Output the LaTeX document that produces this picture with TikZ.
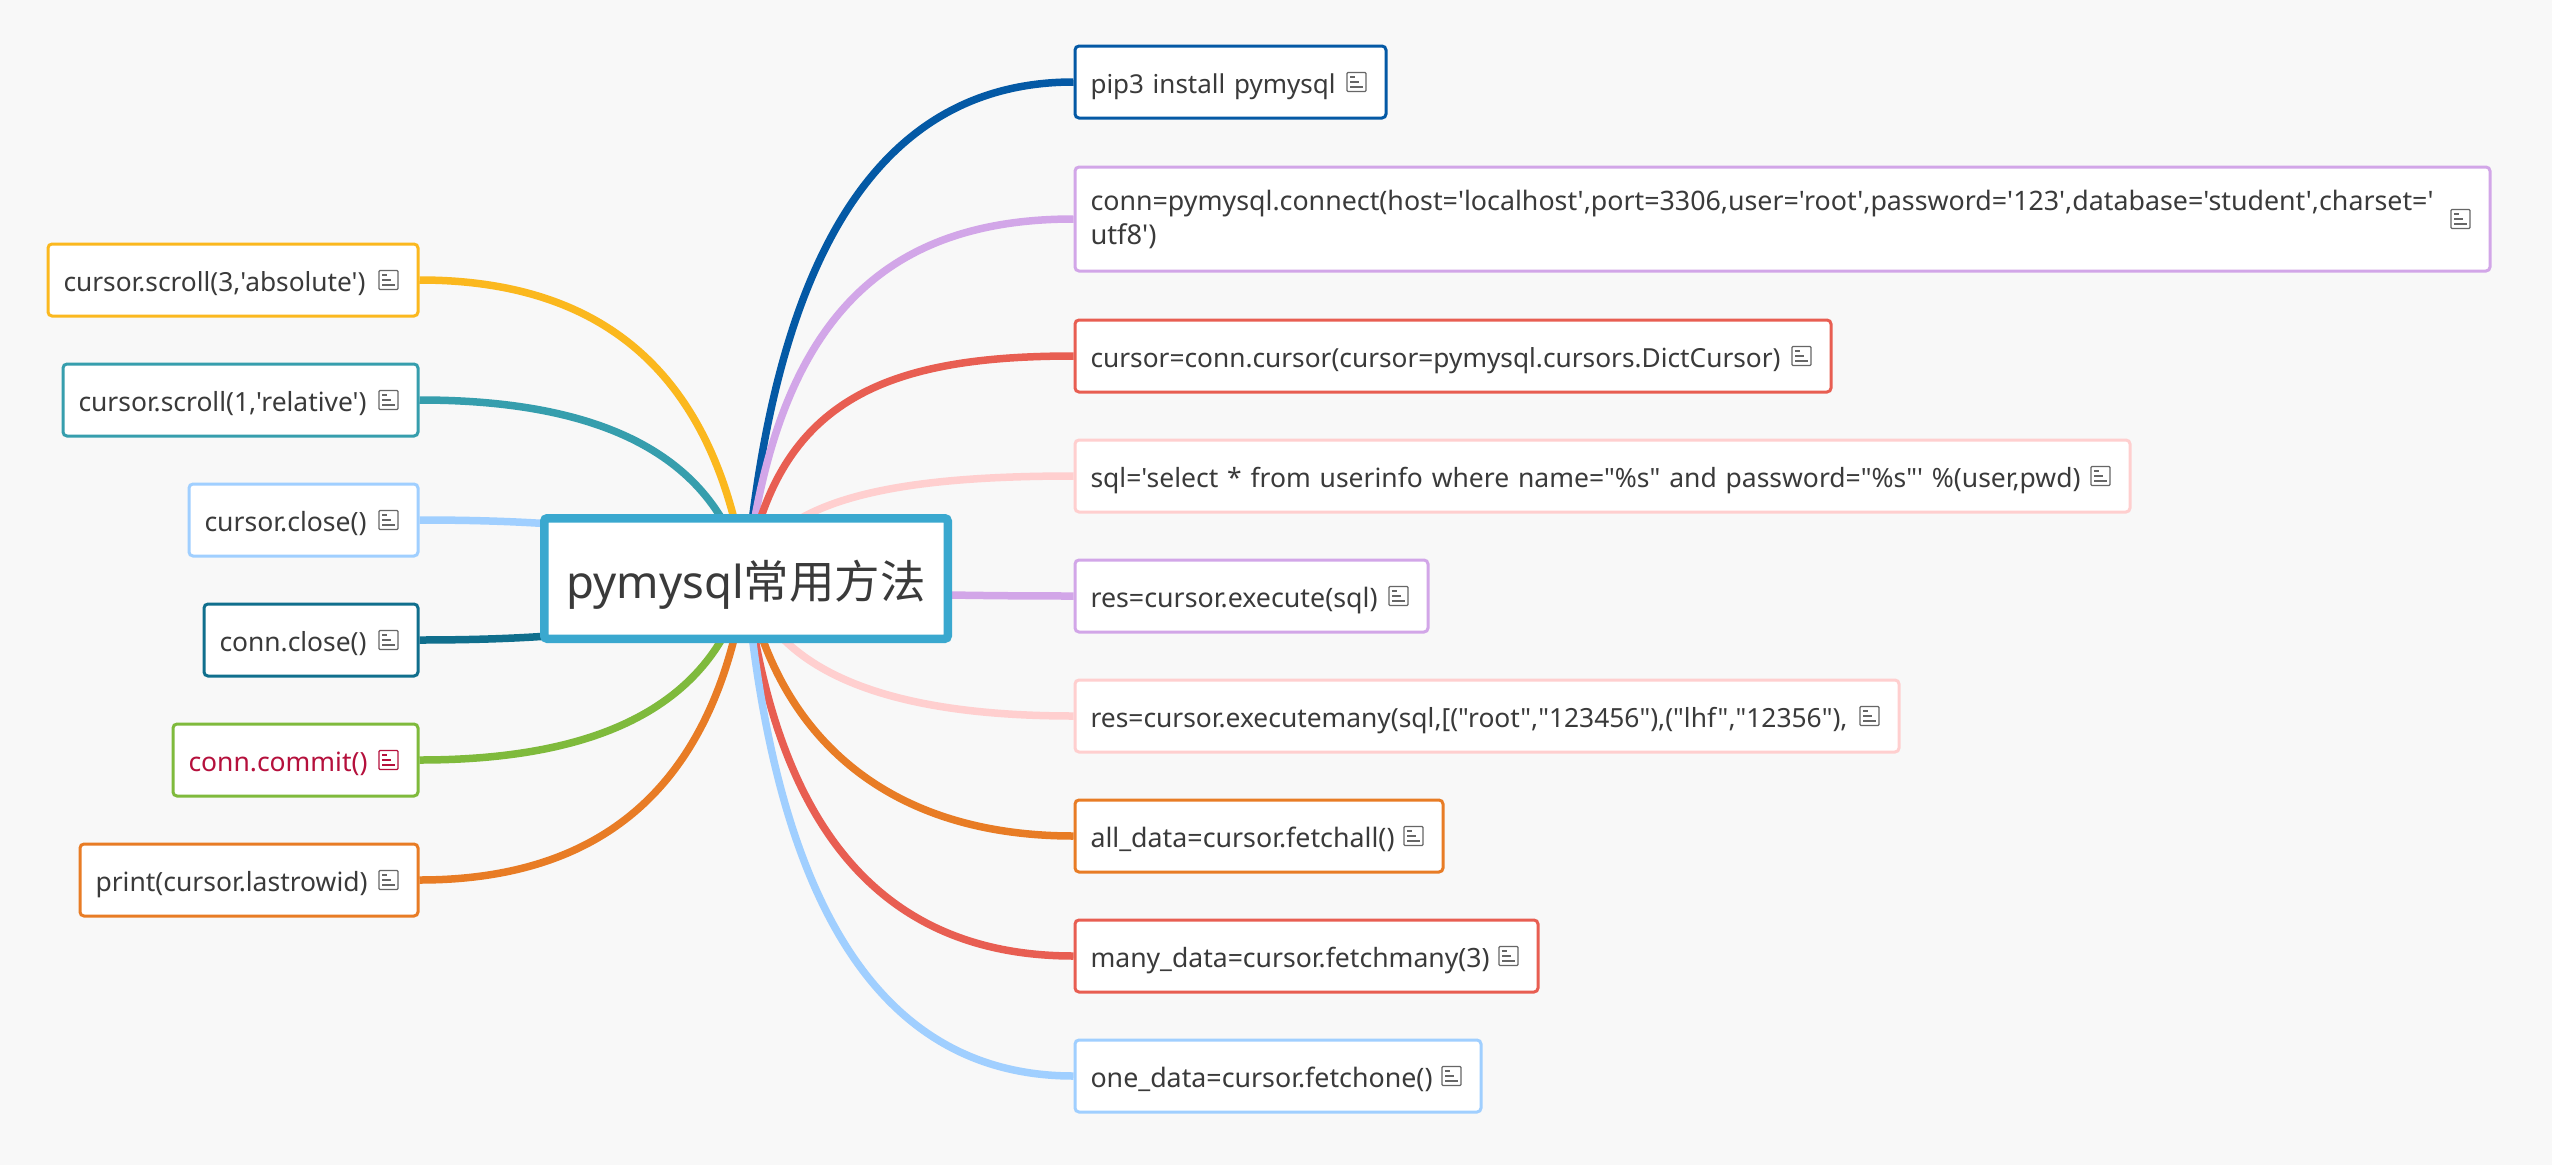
\documentclass[tikz,border=0pt]{standalone}
\usepackage{fontspec}
\usepackage{graphicx}
\usetikzlibrary{calc}
\newfontfamily\bodyfont{Noto Sans}
\newfontfamily\cjkfont{Noto Sans CJK SC}
\definecolor{bgc}{HTML}{F8F8F8}
\definecolor{txtc}{HTML}{3A3A3A}
\definecolor{iconc}{HTML}{666666}
\definecolor{cblue}{HTML}{0459A5}
\definecolor{cpurple}{HTML}{D2A6E8}
\definecolor{cred}{HTML}{E85E52}
\definecolor{cpink}{HTML}{FFCFCF}
\definecolor{corange}{HTML}{E87C25}
\definecolor{csky}{HTML}{A0CFFF}
\definecolor{cyellow}{HTML}{FBB81E}
\definecolor{cteal}{HTML}{369EAD}
\definecolor{cdteal}{HTML}{106F8D}
\definecolor{cgreen}{HTML}{7FBA3C}
\definecolor{croot}{HTML}{3AA8CF}
\definecolor{ccrim}{HTML}{B5103C}
\pgfdeclarelayer{canvas}
\pgfdeclarelayer{wires}
\pgfsetlayers{canvas,wires,main}
\tikzset{
  x=1pt,y=-1pt,
  leafextra/.style={},
  leaf/.style={draw=#1,line width=3pt,fill=white,rounded corners=4pt,inner sep=0pt,
    font=\bodyfont\fontsize{26.5}{36.5}\selectfont,text=txtc,align=left,
    text height=30pt,text depth=8pt,anchor=center,leafextra},
  rootbox/.style={draw=croot,line width=8.5pt,fill=white,rounded corners=3pt,inner sep=0pt,
    font=\bodyfont\fontsize{46}{50}\selectfont,text=txtc,align=center,
    text height=45pt,text depth=6pt,
    minimum width=403.5pt,minimum height=120.5pt},
  wire/.style={line width=7.5pt,draw=#1},
  noteicon/.style={draw=#1,line width=1.3pt},
}
\newcommand{\fitw}[2]{\resizebox{#1pt}{!}{#2}}
% [#1 icon colour], #2 name, #3 colour, #4 x0, #5 x1, #6 y0, #7 y1, #8 text
\newcommand{\leafbox}[8][iconc]{%
  \node[leaf=#3,minimum width=#5-#4,minimum height=#7-#6,text width=#5-#4-31pt]
    (#2) at ({(#4+#5)/2},{(#6+#7)/2}) {#8};
  \begin{scope}[shift={($(#2.east)+(-31,0)$)}]
    \draw[noteicon=#1,rounded corners=1pt] (-9.5,-9.5) rectangle (9.5,9.5);
    \draw[noteicon=#1] (-6.3,-5) -- (-1.7,-5) (-6.3,0) -- (2.7,0) (-6.3,5) -- (6.3,5);
  \end{scope}}
% #1 end anchor, #2 colour, #3 vertical fraction of the first control
\newcommand{\branch}[3]{%
  \coordinate (ax) at ($(root.center)!0.09!(#1)$);
  \coordinate (ay) at ($(root.center)!#3!(#1)$);
  \coordinate (bx) at ($(root.center)!0.42!(#1)$);
  \draw[wire=#2] (root.center) .. controls (ax |- ay) and (bx |- #1) .. (#1);}
\begin{document}
\begin{tikzpicture}
\useasboundingbox (0,0) rectangle (2552,1165);
\begin{pgfonlayer}{canvas}
\fill[bgc] (0,0) rectangle (2552,1165);
\end{pgfonlayer}
\node[rootbox] (root) at (746,578.5) {\fitw{359}{pymysql{\cjkfont 常用方法}}};
\leafbox{pip}{cblue}{1075}{1386}{46}{118}{\fitw{245}{pip3 install pymysql}}
\begin{scope}[leafextra/.style={text height=8pt,text depth=26pt}]
\leafbox{connect}{cpurple}{1075}{2490}{167}{271}{\fitw{1343}{conn=pymysql.connect(host='localhost',port=3306,user='root',password='123',database='student',charset='}\\[-2.5pt]\fitw{66}{utf8')}}
\end{scope}
\leafbox{cur}{cred}{1075}{1831}{320}{392}{\fitw{690}{cursor=conn.cursor(cursor=pymysql.cursors.DictCursor)}}
\leafbox{sql}{cpink}{1075}{2130}{440}{512}{\fitw{990}{sql='select * from userinfo where name="\%s" and password="\%s"' \%(user,pwd)}}
\leafbox{exec}{cpurple}{1075}{1428}{560}{632}{\fitw{287}{res=cursor.execute(sql)}}
\leafbox{many}{cpink}{1075}{1899}{680}{752}{\fitw{757}{res=cursor.executemany(sql,[("root","123456"),("lhf","12356"),}}
\leafbox{all}{corange}{1075}{1443}{800}{872}{\fitw{304}{all\_data=cursor.fetchall()}}
\leafbox{fmany}{cred}{1075}{1538}{920}{992}{\fitw{399}{many\_data=cursor.fetchmany(3)}}
\leafbox{one}{csky}{1075}{1481}{1040}{1112}{\fitw{342}{one\_data=cursor.fetchone()}}
\leafbox{sabs}{cyellow}{48}{418}{244}{316}{\fitw{302}{cursor.scroll(3,'absolute')}}
\leafbox{srel}{cteal}{63}{418}{364}{436}{\fitw{288}{cursor.scroll(1,'relative')}}
\leafbox{cclose}{csky}{189}{418}{484}{556}{\fitw{162}{cursor.close()}}
\leafbox{nclose}{cdteal}{204}{418}{604}{676}{\fitw{147}{conn.close()}}
\leafbox[ccrim]{commit}{cgreen}{173}{418}{724}{796}{\fitw{179}{\textcolor{ccrim}{conn.commit()}}}
\leafbox{lastid}{corange}{80}{418}{844}{916}{\fitw{272}{print(cursor.lastrowid)}}
\begin{pgfonlayer}{wires}
\branch{pip.west}{cblue}{0.667}
\branch{connect.west}{cpurple}{0.72}
\branch{cur.west}{cred}{0.8}
\branch{sql.west}{cpink}{0.75}
\branch{exec.west}{cpurple}{0.667}
\branch{many.west}{cpink}{0.667}
\branch{all.west}{corange}{0.6}
\branch{fmany.west}{cred}{0.667}
\branch{one.west}{csky}{0.667}
\branch{sabs.east}{cyellow}{0.667}
\branch{srel.east}{cteal}{0.667}
\branch{cclose.east}{csky}{0.667}
\branch{nclose.east}{cdteal}{0.667}
\branch{commit.east}{cgreen}{0.667}
\branch{lastid.east}{corange}{0.667}
\end{pgfonlayer}
\end{tikzpicture}
\end{document}
